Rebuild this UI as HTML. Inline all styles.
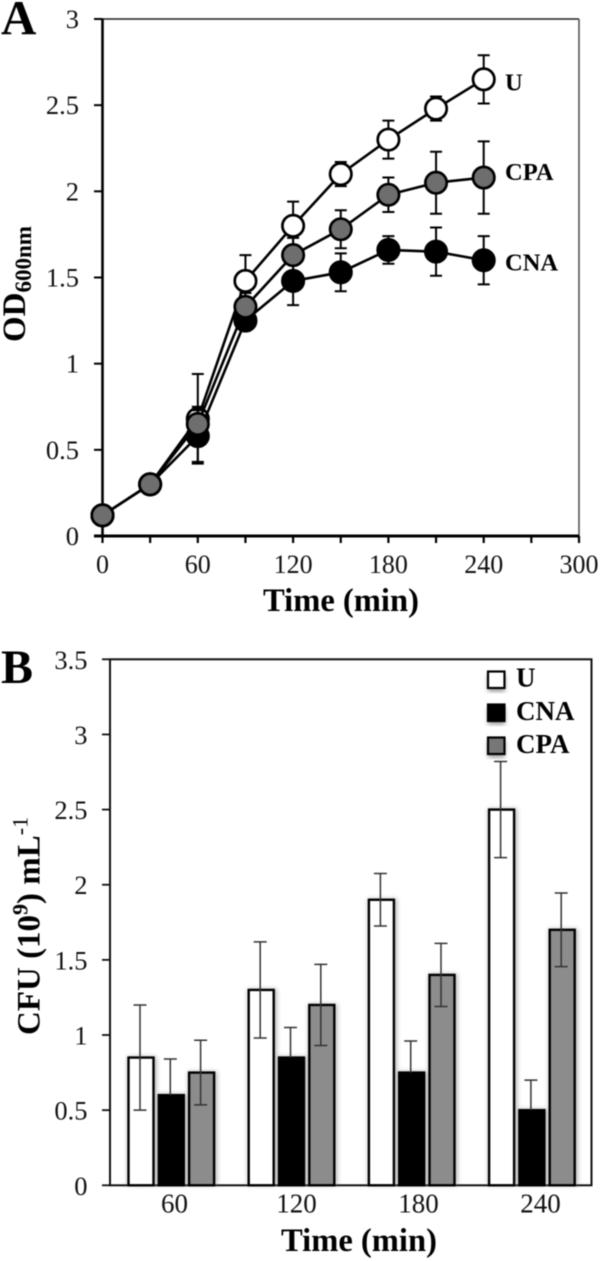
<!DOCTYPE html>
<html>
<head>
<meta charset="utf-8">
<title>Growth and CFU charts</title>
<style>
html,body{margin:0;padding:0;background:#fff;width:600px;height:1261px;overflow:hidden}
svg{display:block;font-family:"Liberation Serif",serif;filter:blur(0.45px)}
</style>
</head>
<body>
<svg id="fig" width="600" height="1261" viewBox="0 0 600 1261" xmlns="http://www.w3.org/2000/svg">
<defs>
<filter id="barShadow" x="-30%" y="-10%" width="160%" height="120%"><feGaussianBlur stdDeviation="2.5"/></filter>
</defs>
<text x="1" y="34" font-size="49" font-weight="bold">A</text>
<text x="1" y="683" font-size="48" font-weight="bold">B</text>
<text transform="translate(25,342) rotate(-90)" font-size="33" font-weight="bold">OD<tspan font-size="23" dy="6">600nm</tspan></text>
<text transform="translate(39.5,1035) rotate(-90)" font-size="33" font-weight="bold">CFU (10<tspan font-size="22" dy="-12">9</tspan><tspan dy="12">) mL</tspan><tspan font-size="22" font-weight="normal" dy="-12">-1</tspan></text>
<text x="263" y="611" font-size="32.6" font-weight="bold">Time (min)</text>
<text x="281" y="1251" font-size="32.6" font-weight="bold">Time (min)</text>
<g id="chartA"></g>
<g id="chartB"></g>
</svg>
<script>
// Panel A data
const timesA = [0, 30, 60, 90, 120, 150, 180, 210, 240];
const odU = [0.12, 0.30, 0.68, 1.48, 1.80, 2.10, 2.30, 2.48, 2.65];
const odCNA = [0.12, 0.30, 0.58, 1.25, 1.48, 1.53, 1.66, 1.65, 1.60];
const odCPA = [0.12, 0.30, 0.65, 1.33, 1.63, 1.78, 1.98, 2.05, 2.08];
const odErrU = [0.02, 0.05, 0.26, 0.15, 0.14, 0.07, 0.11, 0.07, 0.14];
const odErrCNA = [0.02, 0.05, 0.15, 0.05, 0.14, 0.11, 0.08, 0.14, 0.14];
const odErrCPA = [0.02, 0.05, 0.10, 0.08, 0.10, 0.11, 0.10, 0.18, 0.21];
const yTicksA = [0, 0.5, 1, 1.5, 2, 2.5, 3];
const xTicksA = [0, 30, 60, 90, 120, 150, 180, 210, 240, 270, 300];
const xTickLabelsA = [0, 60, 120, 180, 240, 300];

// Panel B data
const categoriesB = ['60', '120', '180', '240'];
const cfuU = [0.85, 1.30, 1.90, 2.50];
const cfuCNA = [0.60, 0.85, 0.75, 0.50];
const cfuCPA = [0.75, 1.20, 1.40, 1.70];
const cfuErrU = [0.35, 0.32, 0.175, 0.32];
const cfuErrCNA = [0.24, 0.20, 0.21, 0.20];
const cfuErrCPA = [0.215, 0.27, 0.21, 0.245];
const yTicksB = [0, 0.5, 1, 1.5, 2, 2.5, 3, 3.5];

const NS = 'http://www.w3.org/2000/svg';
function mk(parent, tag, attrs, txt) {
  const el = document.createElementNS(NS, tag);
  for (const k in attrs) el.setAttribute(k, attrs[k]);
  if (txt !== undefined) el.textContent = txt;
  parent.appendChild(el);
  return el;
}
const A = document.getElementById('chartA');
const B = document.getElementById('chartB');

// ---------- Panel A ----------
const xA = t => 102.5 + t * (579 - 102.5) / 300;
const yA = v => 536 - v * (536 - 19) / 3;
let el;
el = mk(A, 'line', {x1: xA(0), x2: xA(300), y1: yA(3), y2: yA(3), stroke: '#222', 'stroke-width': 1.6});


el = mk(A, 'line', {x1: xA(300), x2: xA(300), y1: yA(3), y2: yA(0), stroke: '#555', 'stroke-width': 1.6});


el = mk(A, 'line', {x1: xA(0), x2: xA(0), y1: yA(3), y2: yA(0), stroke: '#000', 'stroke-width': 2.6});


el = mk(A, 'line', {x1: 94, x2: xA(300), y1: yA(0), y2: yA(0), stroke: '#000', 'stroke-width': 3});


yTicksA.forEach(v => {
  let t = mk(A, 'line', {x1: 94, x2: xA(0), y1: yA(v), y2: yA(v), stroke: '#000', 'stroke-width': 2});
  
  
  t = mk(A, 'text', {x: 79, y: yA(v) + 9, 'text-anchor': 'end', 'font-size': 26.5, fill: '#111'}, String(v));
  
  
});
xTicksA.forEach(v => {
  const t = mk(A, 'line', {x1: xA(v), x2: xA(v), y1: yA(0), y2: yA(0) + 7, stroke: '#000', 'stroke-width': 2.2});
  
  
});
xTickLabelsA.forEach(v => {
  const t = mk(A, 'text', {x: xA(v), y: 573, 'text-anchor': 'middle', 'font-size': 26, fill: '#111'}, String(v));
  
  
});
function drawSeriesA(name, values, errs, fill) {
  const g = mk(A, 'g', {});
  
  
  values.forEach((v, i) => {
    const x = xA(timesA[i]);
    const e = mk(g, 'path', {d: 'M' + x + ' ' + yA(v - errs[i]) + 'V' + yA(v + errs[i]) +
      'M' + (x - 6) + ' ' + yA(v + errs[i]) + 'H' + (x + 6) +
      'M' + (x - 6) + ' ' + yA(v - errs[i]) + 'H' + (x + 6),
      fill: 'none', stroke: '#000', 'stroke-width': 2});
    
    
  });
  const l = mk(g, 'polyline', {points: values.map((v, i) => xA(timesA[i]) + ',' + yA(v)).join(' '),
    fill: 'none', stroke: '#000', 'stroke-width': 2.6});
  
  
  values.forEach((v, i) => {
    const c = mk(g, 'circle', {cx: xA(timesA[i]), cy: yA(v), r: 10.7, fill: fill, stroke: '#000', 'stroke-width': 2.7});
    
    
  });
}
drawSeriesA('u', odU, odErrU, '#ffffff');
drawSeriesA('cna', odCNA, odErrCNA, '#000000');
drawSeriesA('cpa', odCPA, odErrCPA, '#6e6e6e');
el = mk(A, 'text', {x: 505, y: 90.5, 'font-size': 24.5, 'font-weight': 'bold'}, 'U');


el = mk(A, 'text', {x: 505, y: 180, 'font-size': 24.5, 'font-weight': 'bold'}, 'CPA');


el = mk(A, 'text', {x: 505, y: 270.5, 'font-size': 24.5, 'font-weight': 'bold'}, 'CNA');



// ---------- Panel B ----------
const yB = v => 1185.3 - v * (1185.3 - 659.3) / 3.5;
const xB = (cat, s) => 141 + 120.2 * cat + 30.3 * s;
const labelX = cat => 174.5 + 122 * cat;
const barW = 25;

el = mk(B, 'rect', {x: 110, y: yB(3.5), width: 481.5, height: yB(0) - yB(3.5), fill: 'none', stroke: '#111', 'stroke-width': 2});


yTicksB.forEach(v => {
  let t = mk(B, 'line', {x1: 102, x2: 110, y1: yB(v), y2: yB(v), stroke: '#111', 'stroke-width': 1.8});
  
  
  t = mk(B, 'text', {x: 87.5, y: yB(v) + 9.5, 'text-anchor': 'end', 'font-size': 26.5, fill: '#111'}, String(v));
  
  
});
categoriesB.forEach((c, i) => {
  const t = mk(B, 'text', {x: labelX(i), y: 1212.5, 'text-anchor': 'middle', 'font-size': 27, fill: '#111'}, c);
  
  
});
function drawBars(name, s, values, fill) {
  values.forEach((v, i) => {
    const x = xB(i, s);
    const sh = mk(B, 'rect', {x: x - barW / 2 - 1, y: yB(v) - 1, width: barW + 4, height: yB(0) - yB(v) + 1, fill: '#777', opacity: 0.55, filter: 'url(#barShadow)'});
    
    
    const b = mk(B, 'rect', {x: x - barW / 2, y: yB(v), width: barW, height: yB(0) - yB(v), fill: fill, stroke: '#000', 'stroke-width': 2.4});
    
    
  });
}
function drawErrs(name, s, values, errs, twoSided) {
  values.forEach((v, i) => {
    const x = xB(i, s) - 1;
    const low = twoSided ? v - errs[i] : v;
    let d = 'M' + x + ' ' + yB(low) + 'V' + yB(v + errs[i]) + 'M' + (x - 6.5) + ' ' + yB(v + errs[i]) + 'H' + (x + 6.5);
    if (twoSided) d += 'M' + (x - 6.5) + ' ' + yB(low) + 'H' + (x + 6.5);
    const e = mk(B, 'path', {d: d, fill: 'none', stroke: '#333', 'stroke-width': 1.5});
    
    
  });
}
drawBars('u', 0, cfuU, '#ffffff');
drawBars('cna', 1, cfuCNA, '#000000');
drawBars('cpa', 2, cfuCPA, '#8c8c8c');
drawErrs('u', 0, cfuU, cfuErrU, true);
drawErrs('cna', 1, cfuCNA, cfuErrCNA, false);
drawErrs('cpa', 2, cfuCPA, cfuErrCPA, true);

// Legend
const legendNames = ['U', 'CNA', 'CPA'];
const legendFills = ['#ffffff', '#000000', '#777777'];
legendNames.forEach((n, i) => {
  const top = 671.5 + 33 * i;
  const sh = mk(B, 'rect', {x: 488, y: top + 3, width: 17, height: 17, fill: '#555', opacity: 0.6, filter: 'url(#barShadow)'});
  
  
  const r = mk(B, 'rect', {x: 488, y: top, width: 16.5, height: 16.5, fill: legendFills[i], stroke: '#000', 'stroke-width': 2.2});
  
  
  const t = mk(B, 'text', {x: 516, y: 686.5 + 33.3 * i, 'font-size': 27, 'font-weight': 'bold'}, n);
  
  
});
</script>
</body>
</html>
